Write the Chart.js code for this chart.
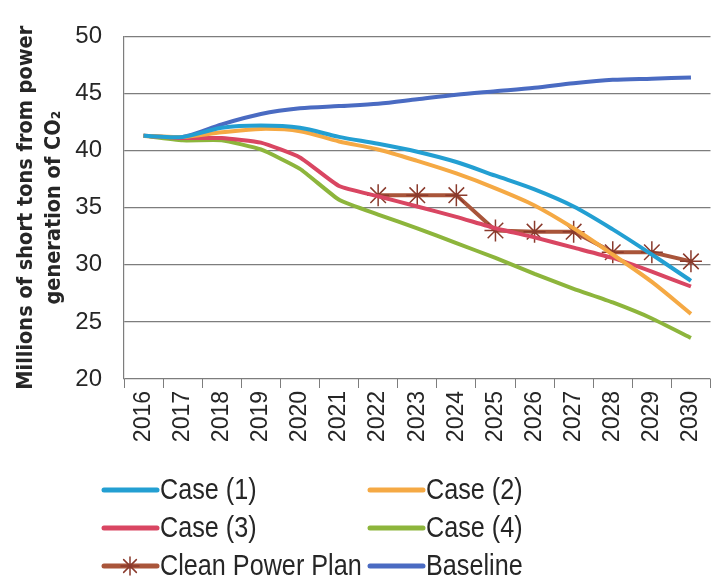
<!DOCTYPE html>
<html>
<head>
<meta charset="utf-8">
<script src="https://cdn.jsdelivr.net/npm/chart.js@4"></script>
<style>
  html, body { margin: 0; padding: 0; background: #fff; }
  #wrap { width: 723px; height: 585px; }
</style>
</head>
<body>
<div id="wrap"><canvas id="co2Chart" width="723" height="585"></canvas></div>
<script>
/* ── Data ────────────────────────────────────── */
const years = ['2016','2017','2018','2019','2020','2021','2022','2023','2024','2025','2026','2027','2028','2029','2030'];
const case1 = [41.3, 41.2, 42.0, 42.2, 42.0, 41.2, 40.6, 39.9, 39.0, 37.8, 36.6, 35.1, 33.1, 30.9, 28.6];
const case2 = [41.3, 41.2, 41.6, 41.9, 41.7, 40.8, 40.1, 39.1, 38.0, 36.7, 35.2, 33.2, 30.9, 28.5, 25.7];
const case3 = [41.3, 41.1, 41.1, 40.7, 39.4, 36.9, 36.0, 35.1, 34.2, 33.2, 32.4, 31.5, 30.6, 29.4, 28.1];
const case4 = [41.3, 40.9, 40.9, 40.1, 38.4, 35.7, 34.4, 33.2, 31.9, 30.6, 29.2, 27.9, 26.7, 25.3, 23.6];
const cleanPowerPlan = [null, null, null, null, null, null, 36.1, 36.1, 36.1, 33.0, 32.9, 32.9, 31.1, 31.1, 30.3];
const baseline = [41.3, 41.2, 42.3, 43.2, 43.7, 43.9, 44.1, 44.5, 44.9, 45.2, 45.5, 45.9, 46.2, 46.3, 46.4];
const yTicks = [20, 25, 30, 35, 40, 45, 50];

const seriesLabels = ['Case (1)', 'Case (2)', 'Case (3)', 'Case (4)', 'Clean Power Plan', 'Baseline'];
const seriesColors = ['#239fd2', '#f5a944', '#d94662', '#8db53c', '#a9553a', '#4a6bc2'];

const TEXT = '#262626';
const GRID = '#7d7d7d';

function line(i, data, extra) {
  return Object.assign({
    label: seriesLabels[i],
    data: data,
    borderColor: seriesColors[i],
    backgroundColor: seriesColors[i],
    borderWidth: 4,
    pointRadius: 0,
    tension: 0.25,
    fill: false
  }, extra || {});
}

/* ── Legend drawn on canvas, two columns ─────── */
// narrow text look: regular face squeezed horizontally
const gridLegend = {
  id: 'gridLegend',
  afterDraw(chart) {
    const ctx = chart.ctx;
    const cols = [100, 366];
    const rows = [490, 528, 566];
    ctx.save();
    chart.data.datasets.forEach((ds, i) => {
      const x = cols[i % 2], y = rows[Math.floor(i / 2)];
      ctx.strokeStyle = ds.borderColor;
      ctx.lineWidth = 5;
      ctx.lineCap = 'round';
      ctx.beginPath();
      ctx.moveTo(x + 4, y);
      ctx.lineTo(x + 57, y);
      ctx.stroke();
      if (ds.pointStyle === 'star') {
        ctx.strokeStyle = ds.pointBorderColor;
        ctx.lineWidth = 1.5;
        const r = 9, cx = x + 30;
        for (let k = 0; k < 4; k++) {
          const a = k * Math.PI / 4;
          ctx.beginPath();
          ctx.moveTo(cx - r * Math.cos(a), y - r * Math.sin(a));
          ctx.lineTo(cx + r * Math.cos(a), y + r * Math.sin(a));
          ctx.stroke();
        }
      }
      ctx.save();
      ctx.translate(x + 60, y + 1);
      ctx.scale(0.84, 1);
      ctx.font = '30px "Liberation Sans", sans-serif';
      ctx.textBaseline = 'middle';
      ctx.fillStyle = TEXT;
      ctx.fillText(ds.label, 0, 0);
      ctx.restore();
    });
    ctx.restore();
  }
};

new Chart(document.getElementById('co2Chart').getContext('2d'), {
  type: 'line',
  data: {
    labels: years,
    datasets: [
      line(0, case1, { tension: 0.3 }),
      line(1, case2, { tension: 0.3 }),
      line(2, case3, { tension: 0.15 }),
      line(3, case4, { tension: 0.15 }),
      line(4, cleanPowerPlan, {
        tension: 0,
        pointStyle: 'star',
        pointRadius: 11,
        pointBorderWidth: 1.5,
        pointBorderColor: '#8a3a2c',
        pointBackgroundColor: '#8a3a2c'
      }),
      line(5, baseline, { tension: 0.3 })
    ]
  },
  options: {
    responsive: false,
    animation: false,
    layout: { padding: { top: 8, right: 0, bottom: 136, left: 0 } },
    plugins: { legend: { display: false }, tooltip: { enabled: false } },
    scales: {
      x: {
        offset: true,
        grid: { offset: true, drawOnChartArea: false, drawTicks: true, tickLength: 9, color: GRID },
        border: { display: false },
        ticks: {
          color: TEXT,
          maxRotation: 90, minRotation: 90,
          padding: 3,
          font: { family: '"Liberation Sans", sans-serif', size: 23 }
        },
        afterFit(scale) { scale.height = 70; }
      },
      y: {
        min: 20, max: 50,
        afterBuildTicks(scale) { scale.ticks = yTicks.map(v => ({ value: v })); },
        grid: { color: GRID, lineWidth: 1.2, drawTicks: false },
        border: { display: true, color: GRID, width: 1.2 },
        ticks: {
          color: TEXT,
          padding: 22,
          font: { family: '"Liberation Sans", sans-serif', size: 24 }
        },
        title: {
          display: true,
          text: ['Millions of short tons from power', 'generation of CO\u2082'],
          color: TEXT,
          padding: { top: 12, bottom: 4 },
          font: { family: '"DejaVu Sans Condensed", "DejaVu Sans", sans-serif', size: 21.5, weight: 'bold', lineHeight: 1.3 }
        },
        afterFit(scale) { scale.width = 124; }
      }
    }
  },
  plugins: [gridLegend]
});
</script>
</body>
</html>
